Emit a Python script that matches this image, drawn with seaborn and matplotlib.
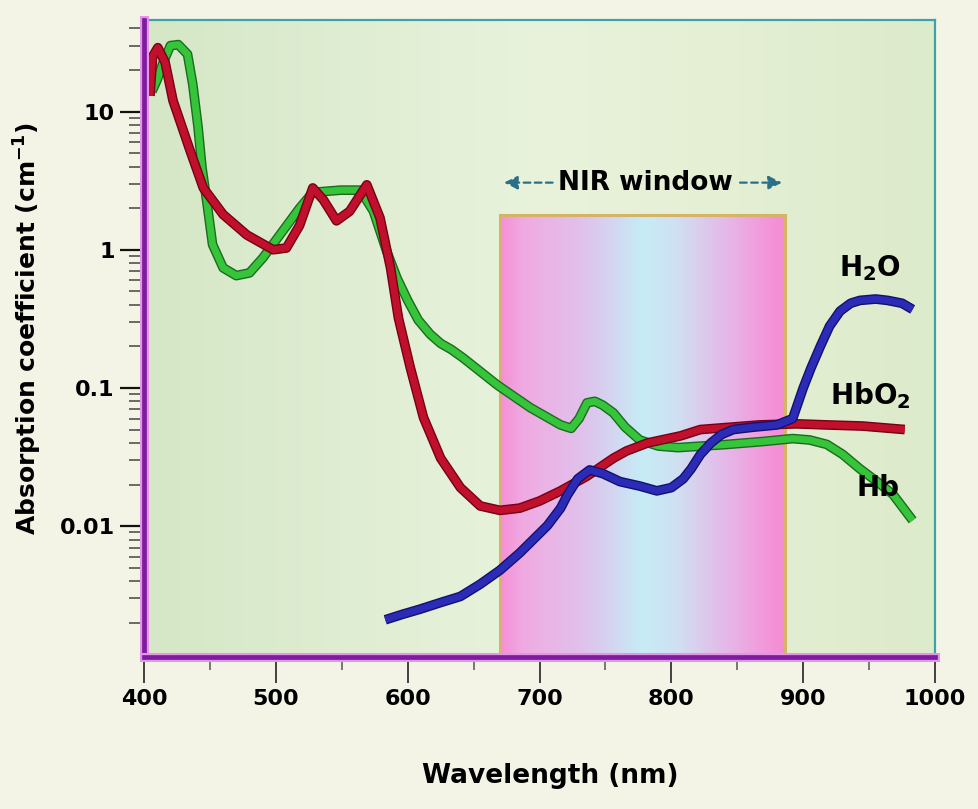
import matplotlib
matplotlib.use("Agg")
import matplotlib.pyplot as plt
import matplotlib.patheffects as pe
from matplotlib.colors import LinearSegmentedColormap
from matplotlib.patches import Rectangle
from matplotlib.ticker import LogLocator, FixedLocator, NullFormatter, FuncFormatter
import numpy as np
import pandas as pd
import seaborn as sns

# absorption spectra (nm, cm^-1)
hbo2_nm = [404.5, 406.5, 410.5, 416, 422, 435, 445, 460, 478, 498, 508, 518, 528, 536, 546,
           556, 569, 579, 587, 593, 602, 612, 625, 640, 655, 670, 685, 700, 716, 736, 756,
           766, 782, 807, 822, 845, 867, 895, 918, 945, 977]
hbo2 = [13, 25, 29, 22.7, 12, 5.2, 2.8, 1.8, 1.28, 1.0, 1.03, 1.5, 2.8, 2.3, 1.62,
        1.9, 2.95, 1.7, 0.74, 0.32, 0.14, 0.061, 0.031, 0.019, 0.014, 0.013, 0.0135, 0.0152, 0.018, 0.023, 0.031,
        0.035, 0.04, 0.045, 0.05, 0.052, 0.054, 0.055, 0.054, 0.053, 0.05]

hb_nm = [406, 410, 414, 420, 426, 433, 437, 441, 444, 448, 452, 460, 470, 480, 490, 503, 518,
         528, 549, 564, 574, 584, 592, 600, 608, 617, 625, 633, 642, 668, 693, 716, 724, 730, 736,
         742, 748, 756, 765, 776, 790, 805, 842, 870, 892, 905, 918, 930, 943, 956, 968, 983]
hb = [14, 17, 22, 30, 30.5, 26, 15.7, 7.7, 3.9, 2.1, 1.09, 0.74, 0.65, 0.68, 0.87, 1.28, 2.0,
      2.6, 2.7, 2.7, 1.9, 0.98, 0.62, 0.43, 0.31, 0.245, 0.21, 0.19, 0.165, 0.105, 0.072, 0.054, 0.051,
      0.06, 0.078, 0.08, 0.075, 0.066, 0.052, 0.042, 0.038, 0.037, 0.039, 0.041, 0.043, 0.042, 0.039,
      0.033, 0.026, 0.021, 0.017, 0.011]

h2o_nm = [583, 596, 609, 625, 640, 655, 670, 685, 706, 716, 721, 729, 738, 748, 761, 776, 789,
          800, 809, 815, 822, 830, 838, 847, 862, 880, 892, 900, 906, 913, 920, 928, 936, 943, 955,
          964, 975, 983]
h2o = [0.0021, 0.0023, 0.0025, 0.0028, 0.0031, 0.0038, 0.0048, 0.0064, 0.0101, 0.0135, 0.0167,
       0.022, 0.0255, 0.024, 0.021, 0.0195, 0.018, 0.019, 0.022, 0.026, 0.033, 0.04, 0.046, 0.05,
       0.052, 0.054, 0.06, 0.1, 0.14, 0.2, 0.28, 0.36, 0.41, 0.43, 0.44, 0.43, 0.41, 0.37]

x_ticks = [400, 500, 600, 700, 800, 900, 1000]
y_ticks = [0.01, 0.1, 1, 10]
nir_lo, nir_hi, nir_top = 670, 886, 1.77

sns.set_theme(style="white")
plt.rcParams['font.family'] = ['DejaVu Sans']
plt.rcParams['font.weight'] = 'bold'
plt.rcParams['text.color'] = 'black'
plt.rcParams['axes.labelcolor'] = 'black'

fig = plt.figure(figsize=(9.79, 8.09), dpi=100, facecolor="#f3f4e6")
ax = fig.add_axes([0.1471, 0.1879, 0.808, 0.7874])
ax.set_yscale("log")
ax.set_xlim(400, 1000)
ax.set_ylim(0.00113, 46)
ax.autoscale(False)

# background gradient of the plotting area
bg_cmap = LinearSegmentedColormap.from_list(
    "bg", ["#d5e7c6", "#dfedd2", "#e9f3dc", "#e4efd3", "#dcebcb"])
ax.imshow(np.linspace(0, 1, 256).reshape(1, -1), cmap=bg_cmap, extent=(0, 1, 0, 1),
          transform=ax.transAxes, aspect="auto", zorder=0)

# NIR window
nir_cmap = LinearSegmentedColormap.from_list(
    "nir", [(0, "#f590d6"), (0.08, "#f0aae2"), (0.3, "#dfc3ec"), (0.5, "#c6ecf6"),
            (0.62, "#d0e0f2"), (0.82, "#e8b2e6"), (0.95, "#f494d8"), (1, "#f58cd4")])
ax.imshow(np.linspace(0, 1, 256).reshape(1, -1), cmap=nir_cmap,
          extent=(nir_lo, nir_hi, 0.00113, nir_top), aspect="auto", zorder=1)
ax.add_patch(Rectangle((nir_lo, 0.00113), nir_hi - nir_lo, nir_top - 0.00113,
                       fill=False, edgecolor="#d6b466", lw=2.2, zorder=2))

df = pd.concat([
    pd.DataFrame({"nm": hb_nm, "mu": hb, "s": "Hb"}),
    pd.DataFrame({"nm": hbo2_nm, "mu": hbo2, "s": "HbO2"}),
    pd.DataFrame({"nm": h2o_nm, "mu": h2o, "s": "H2O"}),
])
styles = {"Hb": ("#35c43a", "#1c6a1f"), "HbO2": ("#c0102c", "#760016"), "H2O": ("#2b2bb8", "#12126c")}
for name in ["Hb", "HbO2", "H2O"]:
    core, edge = styles[name]
    sns.lineplot(data=df[df.s == name], x="nm", y="mu", sort=False, color=core,
                 linewidth=5.0, ax=ax, zorder=4)
    ln = ax.lines[-1]
    ln.set_solid_capstyle("butt")
    ln.set_solid_joinstyle("round")
    ln.set_path_effects([pe.Stroke(linewidth=7.0, foreground=edge), pe.Normal()])

# labels
ax.text(951, 0.74, r"$\mathbf{H_2O}$", fontsize=20, ha="center", va="center", zorder=5)
ax.text(951, 0.0875, r"$\mathbf{HbO_2}$", fontsize=20, ha="center", va="center", zorder=5)
ax.text(957, 0.0188, "Hb", fontsize=20, fontweight="bold", ha="center", va="center", zorder=5)

ax.text(780, 3.06, "NIR window", fontsize=19, fontweight="bold", ha="center", va="center", zorder=5)
arr = dict(arrowstyle="-|>", color="#2c6f88", lw=1.6, linestyle=(0, (3, 2)), mutation_scale=20)
ax.annotate("", xy=(671, 3.06), xytext=(712, 3.06), arrowprops=arr, zorder=5)
ax.annotate("", xy=(886, 3.06), xytext=(850, 3.06), arrowprops=arr, zorder=5)

# axes styling
for side in ["top", "right"]:
    ax.spines[side].set_color("#3ea3a9")
    ax.spines[side].set_linewidth(1.6)
for side in ["left", "bottom"]:
    ax.spines[side].set_color("#7d1c9e")
    ax.spines[side].set_linewidth(3.4)
    ax.spines[side].set_path_effects([pe.Stroke(linewidth=6.5, foreground="#e496e6"), pe.Normal()])
    ax.spines[side].set_zorder(6)

ax.xaxis.set_major_locator(FixedLocator(x_ticks))
ax.xaxis.set_minor_locator(FixedLocator([450, 550, 650, 750, 850, 950]))
ax.yaxis.set_major_locator(FixedLocator(y_ticks))
ax.yaxis.set_minor_locator(LogLocator(base=10, subs=np.arange(2, 10)))
ax.yaxis.set_minor_formatter(NullFormatter())
ax.yaxis.set_major_formatter(FuncFormatter(lambda v, p: f"{v:g}"))

ax.tick_params(axis="x", which="major", direction="out", length=19, width=1.3, color="#333333",
               pad=4, labelsize=16, labelcolor="black", bottom=True)
ax.tick_params(axis="x", which="minor", direction="out", length=9, width=1.1, color="#555555", bottom=True)
ax.tick_params(axis="y", which="major", direction="out", length=17, width=1.6, color="#111111",
               pad=4, labelsize=16, labelcolor="black", left=True)
ax.tick_params(axis="y", which="minor", direction="out", length=11, width=1.1, color="#444444", left=True)
for lab in ax.get_xticklabels() + ax.get_yticklabels():
    lab.set_fontweight("bold")

ax.set_xlabel("Wavelength (nm)", fontsize=19, fontweight="bold")
ax.set_ylabel("Absorption coefficient (cm$^{\\mathbf{-1}}$)", fontsize=18, fontweight="bold")
ax.xaxis.set_label_coords(0.513, -0.166)
ax.yaxis.set_label_coords(-0.126, 0.516)

fig.savefig("out.png", dpi=100, facecolor=fig.get_facecolor())
